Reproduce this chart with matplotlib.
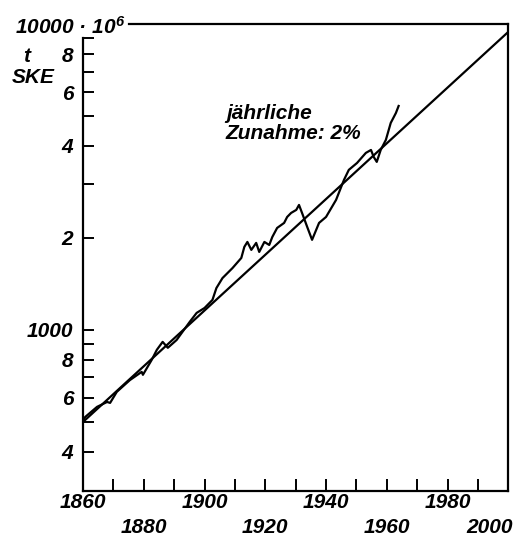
import matplotlib
matplotlib.use('Agg')
from matplotlib import pyplot as plt

# Weltverbrauch an Primaerenergie, 10^6 t SKE
years = [1860, 1860.7, 1864.6, 1867.9, 1868.9, 1871.1, 1875.4, 1879.3, 1879.7,
         1882.6, 1884.3, 1886.2, 1887.9, 1890.8, 1895.1, 1897.4, 1900.0, 1902.6,
         1903.9, 1905.9, 1909.2, 1912.1, 1913.1, 1914.1, 1915.4, 1917.0, 1918.0,
         1919.7, 1921.3, 1922.3, 1923.9, 1926.2, 1927.2, 1928.5, 1930.2, 1931.1,
         1932.1, 1933.8, 1935.4, 1937.7, 1940.0, 1943.3, 1945.9, 1947.5, 1950.2,
         1953.1, 1954.8, 1955.7, 1956.7, 1958.0, 1959.7, 1961.3, 1963.0, 1963.9]
consumption = [505, 519, 560, 581, 577, 627, 685, 729, 713,
               798, 861, 914, 874, 927, 1062, 1137, 1180, 1254,
               1371, 1478, 1594, 1720, 1870, 1941, 1828, 1927, 1800,
               1941, 1897, 2014, 2157, 2240, 2343, 2415, 2471, 2565,
               2415, 2173, 1972, 2240, 2343, 2664, 3097, 3341, 3519,
               3796, 3882, 3683, 3548, 3882, 4188, 4758, 5128, 5408]

trend_years = [1860, 2000]
trend_values = [500, 9450]

ytick_vals = [400, 500, 600, 700, 800, 900, 1000, 2000, 3000, 4000, 5000,
              6000, 7000, 8000, 9000]
ytick_labels = ['4', '', '6', '', '8', '', '1000', '2', '', '4', '', '6', '',
                '8', '']
xtick_vals = list(range(1860, 2001, 10))
xlabels_upper = [1860, 1900, 1940, 1980]
xlabels_lower = [1880, 1920, 1960, 2000]

plt.rcParams['font.family'] = ['Liberation Sans', 'DejaVu Sans']
plt.rcParams['mathtext.fontset'] = 'custom'
plt.rcParams['mathtext.rm'] = 'Liberation Sans:italic:bold'
plt.rcParams['mathtext.it'] = 'Liberation Sans:italic:bold'
font = dict(fontsize=15, style='italic', fontweight='bold')

fig = plt.figure(figsize=(5.16, 5.41), dpi=100)
ax = fig.add_axes([0.161, 0.0924, 0.824, 0.8625])

ax.plot(years, consumption, color='black', lw=1.6)
ax.plot(trend_years, trend_values, color='black', lw=1.6)

ax.set_yscale('log')
ax.set_xlim(1860, 2000)
ax.set_ylim(297, 10000)

ax.set_yticks(ytick_vals)
ax.set_yticklabels(ytick_labels, **font)
ax.yaxis.set_minor_locator(matplotlib.ticker.NullLocator())
ax.tick_params(axis='y', direction='in', length=8, width=1.4, pad=7)

ax.set_xticks(xtick_vals)
ax.set_xticklabels([])
ax.tick_params(axis='x', direction='in', length=9, width=1.4)

for s in ax.spines.values():
    s.set_linewidth(1.6)
ax.spines['left'].set_bounds(297, 9000)
ax.spines['top'].set_bounds(1875, 2000)

tr = ax.get_xaxis_transform()
for yr in xlabels_upper:
    ax.text(yr, -0.024, str(yr), transform=tr, ha='center', va='center', **font)
for yr in xlabels_lower:
    ha = 'right' if yr == 2000 else 'center'
    x = 2001.5 if yr == 2000 else yr
    ax.text(x, -0.078, str(yr), transform=tr, ha=ha, va='center', **font)

ax.text(1874, 10000, '10000 · 10$^{6}$', ha='right', va='center_baseline',
        clip_on=False, **font)
fig.text(0.052, 0.896, 't', ha='center', va='center', **font)
fig.text(0.064, 0.856, 'SKE', ha='center', va='center', **font)

ax.text(1907, 5500, 'jährliche\nZunahme: 2%', ha='left', va='top',
        linespacing=1.1, **font)

fig.savefig('out.png', dpi=100)
